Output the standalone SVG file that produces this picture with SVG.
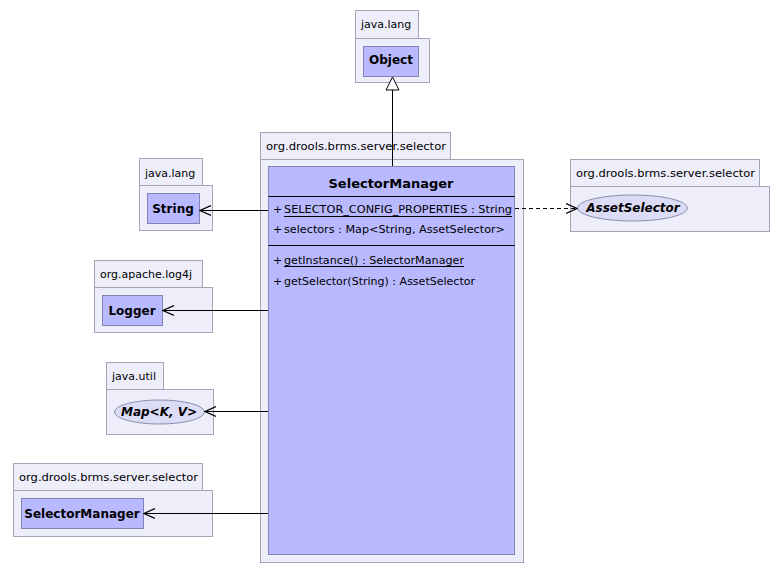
<svg xmlns="http://www.w3.org/2000/svg" width="784" height="575" viewBox="0 0 784 575">
  <style>
    .pkg { fill: #eeeefb; stroke: #a4a4b8; stroke-width: 1; }
    .cls { fill: #b9b9ff; stroke: #8484b4; stroke-width: 1; }
    .ifc { fill: #dcdcf6; stroke: #8c8cae; stroke-width: 1; }
    .plabel { font-family: "DejaVu Sans", sans-serif; font-size: 11px; fill: #000; }
    .cname { font-family: "DejaVu Sans", sans-serif; font-size: 12px; font-weight: bold; fill: #000; text-anchor: middle; }
    .iname { font-family: "DejaVu Sans", sans-serif; font-size: 12px; font-weight: bold; font-style: italic; fill: #000; text-anchor: middle; }
    .title { font-family: "DejaVu Sans", sans-serif; font-size: 13px; font-weight: bold; fill: #000; text-anchor: middle; }
    .member { font-family: "DejaVu Sans", sans-serif; font-size: 11px; fill: #000; }
    .edge { stroke: #000; stroke-width: 1; fill: none; }
    .dash { stroke-dasharray: 4 3; }
  </style>
  <defs>
    <marker id="open" markerWidth="12" markerHeight="12" refX="11" refY="6" orient="auto" markerUnits="userSpaceOnUse">
      <path d="M0,1 L11,6 L0,11" fill="none" stroke="#000" stroke-width="1.2"/>
    </marker>
  </defs>

  <rect x="0" y="0" width="784" height="575" fill="#ffffff"/>

  <!-- java.lang / Object -->
  <g id="pkg-object">
    <rect class="pkg" x="355.5" y="10.5" width="63" height="28"/>
    <rect class="pkg" x="355.5" y="38.5" width="74" height="44"/>
    <text class="plabel" x="361" y="28">java.lang</text>
    <rect class="cls" x="363.5" y="46.5" width="55" height="30"/>
    <text class="cname" x="391" y="64">Object</text>
  </g>

  <!-- org.drools.brms.server.selector / SelectorManager (main) -->
  <g id="pkg-main">
    <rect class="pkg" x="260.5" y="132.5" width="190" height="27"/>
    <rect class="pkg" x="260.5" y="159.5" width="263" height="403"/>
    <text class="plabel" x="266" y="150" textLength="180" lengthAdjust="spacingAndGlyphs">org.drools.brms.server.selector</text>
  </g>
  <g id="cls-main">
    <rect class="cls" x="268.5" y="166.5" width="246" height="388"/>
    <text class="title" x="391" y="188">SelectorManager</text>
    <line x1="268.5" y1="196.5" x2="514.5" y2="196.5" stroke="#000"/>
    <text class="member" x="273" y="213">+</text>
    <text class="member" x="284" y="213" textLength="228" lengthAdjust="spacingAndGlyphs">SELECTOR_CONFIG_PROPERTIES : String</text>
    <line x1="284" y1="216.5" x2="512" y2="216.5" stroke="#000"/>
    <text class="member" x="273" y="233">+</text>
    <text class="member" x="284" y="233" textLength="221" lengthAdjust="spacingAndGlyphs">selectors : Map&lt;String, AssetSelector&gt;</text>
    <line x1="268.5" y1="245.5" x2="514.5" y2="245.5" stroke="#000"/>
    <text class="member" x="273" y="264">+</text>
    <text class="member" x="284" y="264" textLength="180" lengthAdjust="spacingAndGlyphs">getInstance() : SelectorManager</text>
    <line x1="284" y1="266.5" x2="464" y2="266.5" stroke="#000"/>
    <text class="member" x="273" y="285">+</text>
    <text class="member" x="284" y="285" textLength="191" lengthAdjust="spacingAndGlyphs">getSelector(String) : AssetSelector</text>
  </g>

  <!-- java.lang / String -->
  <g id="pkg-string">
    <rect class="pkg" x="139.5" y="158.5" width="63" height="27"/>
    <rect class="pkg" x="139.5" y="185.5" width="73" height="45"/>
    <text class="plabel" x="145" y="177">java.lang</text>
    <rect class="cls" x="147.5" y="193.5" width="52" height="30"/>
    <text class="cname" x="173" y="213">String</text>
  </g>

  <!-- org.drools.brms.server.selector / AssetSelector -->
  <g id="pkg-assetselector">
    <rect class="pkg" x="570.5" y="159.5" width="189" height="27"/>
    <rect class="pkg" x="570.5" y="186.5" width="199" height="45"/>
    <text class="plabel" x="576" y="177" textLength="179" lengthAdjust="spacingAndGlyphs">org.drools.brms.server.selector</text>
    <ellipse class="ifc" cx="632.5" cy="208" rx="55" ry="13"/>
    <text class="iname" x="633" y="212">AssetSelector</text>
  </g>

  <!-- org.apache.log4j / Logger -->
  <g id="pkg-logger">
    <rect class="pkg" x="94.5" y="260.5" width="108" height="27"/>
    <rect class="pkg" x="94.5" y="287.5" width="118" height="45"/>
    <text class="plabel" x="100" y="278">org.apache.log4j</text>
    <rect class="cls" x="102.5" y="295.5" width="60" height="30"/>
    <text class="cname" x="132" y="315">Logger</text>
  </g>

  <!-- java.util / Map -->
  <g id="pkg-map">
    <rect class="pkg" x="106.5" y="362.5" width="57" height="27"/>
    <rect class="pkg" x="106.5" y="389.5" width="107" height="45"/>
    <text class="plabel" x="112" y="380">java.util</text>
    <ellipse class="ifc" cx="159.5" cy="412" rx="45" ry="12"/>
    <text class="iname" x="159" y="416">Map&lt;K, V&gt;</text>
  </g>

  <!-- org.drools.brms.server.selector / SelectorManager (reference) -->
  <g id="pkg-selectormanager">
    <rect class="pkg" x="13.5" y="463.5" width="189" height="27"/>
    <rect class="pkg" x="13.5" y="490.5" width="199" height="46"/>
    <text class="plabel" x="19" y="481" textLength="179" lengthAdjust="spacingAndGlyphs">org.drools.brms.server.selector</text>
    <rect class="cls" x="21.5" y="498.5" width="122" height="30"/>
    <text class="cname" x="82" y="518">SelectorManager</text>
  </g>

  <!-- connectors -->
  <g id="connectors">
    <line class="edge" x1="392.5" y1="166" x2="392.5" y2="90"/>
    <path d="M392.5,77 L399,90 L386,90 Z" fill="#ffffff" stroke="#000" stroke-width="1"/>
    <line class="edge" x1="268" y1="210.5" x2="200" y2="210.5" marker-end="url(#open)"/>
    <line class="edge dash" x1="515" y1="208.5" x2="577" y2="208.5" marker-end="url(#open)"/>
    <line class="edge" x1="268" y1="310.5" x2="163" y2="310.5" marker-end="url(#open)"/>
    <line class="edge" x1="268" y1="411.5" x2="205" y2="411.5" marker-end="url(#open)"/>
    <line class="edge" x1="268" y1="513.5" x2="144" y2="513.5" marker-end="url(#open)"/>
  </g>
</svg>
